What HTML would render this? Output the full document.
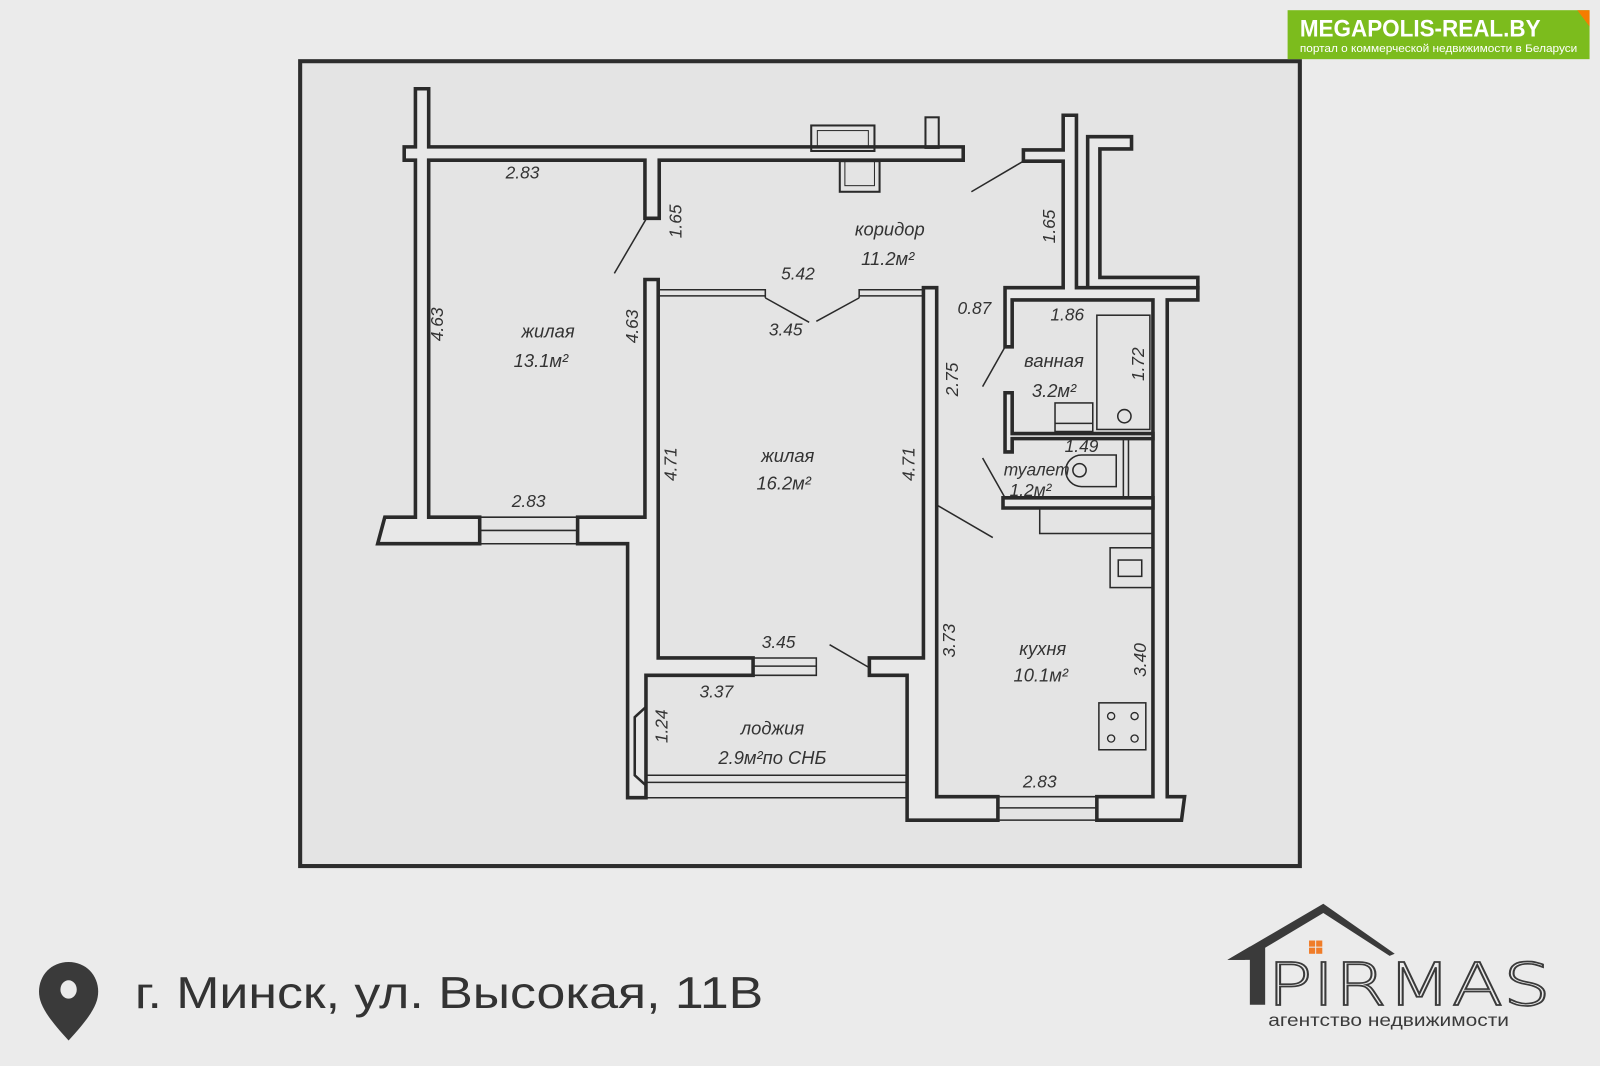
<!DOCTYPE html>
<html><head><meta charset="utf-8"><style>
html,body{margin:0;padding:0;background:#ebebeb;}
svg{display:block}
.t{font-family:"Liberation Sans","DejaVu Sans",sans-serif;font-style:italic;fill:#333;font-size:17px;}
.r{font-family:"Liberation Sans","DejaVu Sans",sans-serif;font-style:italic;fill:#333;font-size:18px;}
</style></head><body>
<svg width="1600" height="1066" viewBox="0 0 1568 1045" xmlns="http://www.w3.org/2000/svg">
<rect x="0" y="0" width="1568" height="1045" fill="#ebebeb"/>
<rect x="294" y="60" width="980" height="789" fill="#e4e4e4" stroke="#2d2d2d" stroke-width="4"/>
<g fill="#e8e8e8" stroke="#2a2a2a" stroke-width="3.5" stroke-linejoin="miter">
<path d="M407,87 L420,87 L420,144 L944,144 L944,157 L646,157 L646,214 L632,214 L632,157 L420,157 L420,507 L470,507 L470,533 L370,533 L377,507 L407,507 L407,157 L396,157 L396,144 L407,144 Z"/>
<path d="M632,274 L645,274 L645,645 L738,645 L738,662 L633,662 L633,782 L615,782 L615,533 L566,533 L566,507 L632,507 Z"/>
<path d="M905,282 L918,282 L918,781 L978,781 L978,804 L889,804 L889,662 L852,662 L852,645 L905,645 Z"/>
<path d="M1042,113 L1055,113 L1055,282 L1174,282 L1174,294 L1144,294 L1144,781 L1161,781 L1158,804 L1075,804 L1075,781 L1130,781 L1130,294 L992,294 L992,340 L985,340 L985,282 L1042,282 L1042,158 L1003,158 L1003,147 L1042,147 Z"/>
<path d="M1066,134 L1109,134 L1109,146 L1078,146 L1078,272 L1174,272 L1174,282 L1066,282 Z"/>
<path d="M985,385 L992,385 L992,425 L1130,425 L1130,430 L992,430 L992,443 L985,443 Z"/>
<path d="M983,488 L1130,488 L1130,498 L983,498 Z"/>
</g>
<g fill="none" stroke="#2a2a2a" stroke-width="2">
<rect x="795" y="123" width="62" height="25"/><rect x="801" y="128" width="50" height="16" stroke-width="1"/>
<rect x="823" y="158" width="39" height="30"/><rect x="828" y="158" width="29" height="24" stroke-width="1"/>
<rect x="907" y="115" width="13" height="30"/>
<path d="M470,507 L566,507 M470,520 L566,520 M470,533 L566,533" stroke-width="1.5"/>
<path d="M738,645 L800,645 L800,662 L738,662 M738,653 L800,653" stroke-width="1.5"/>
<path d="M978,781 L1075,781 M978,792 L1075,792 M978,804 L1075,804" stroke-width="1.5"/>
<path d="M633,760 L889,760 M633,767 L889,767 M633,782 L889,782" stroke-width="1.5"/>
<path d="M645,284 L750,284 L750,292 M645,290 L750,290 M842,292 L842,284 L905,284 M842,290 L905,290" stroke-width="1.5"/>
<path d="M750,292 L793,316 M842,292 L800,315" stroke-width="1.5"/>
<path d="M633,215 L602,268" stroke-width="1.5"/>
<path d="M1003,158 L952,188" stroke-width="1.5"/>
<path d="M985,340 L963,379" stroke-width="1.5"/>
<path d="M963,449 L985,488" stroke-width="1.5"/>
<path d="M918,495 L973,527" stroke-width="1.5"/>
<path d="M813,632 L851,654" stroke-width="1.5"/>
<path d="M633,693 L622,703 L622,760 L633,770" stroke-width="2.5"/>
<rect x="1075" y="309" width="52" height="112" stroke-width="1.5"/>
<circle cx="1102" cy="408" r="6.5" stroke-width="1.5"/>
<rect x="1034" y="395" width="37" height="28" stroke-width="1.5"/>
<path d="M1034,415 L1071,415" stroke-width="1.5"/>
<path d="M1101,430 L1101,488 M1106,430 L1106,488" stroke-width="1.5"/>
<path d="M1060,446 L1094,446 L1094,477 L1060,477 A15.5,15.5 0 0 1 1060,446 Z" stroke-width="1.5"/>
<circle cx="1058" cy="461" r="6.5" stroke-width="1.5"/>
<rect x="1019" y="498" width="111" height="25" stroke-width="1.5"/>
<rect x="1088" y="537" width="42" height="39" stroke-width="1.5"/>
<rect x="1096" y="549" width="23" height="16" stroke-width="1.5"/>
<rect x="1077" y="689" width="46" height="46" stroke-width="1.5"/>
<circle cx="1089" cy="702" r="3.5" stroke-width="1.3"/><circle cx="1112" cy="702" r="3.5" stroke-width="1.3"/>
<circle cx="1089" cy="724" r="3.5" stroke-width="1.3"/><circle cx="1112" cy="724" r="3.5" stroke-width="1.3"/>
</g>
<g text-anchor="middle">
<text class="t" x="512" y="175">2.83</text>
<text class="t" transform="translate(668,217) rotate(-90)">1.65</text>
<text class="r" x="872" y="231">коридор</text>
<text class="r" x="870" y="260">11.2м²</text>
<text class="t" x="782" y="274">5.42</text>
<text class="t" x="770" y="329">3.45</text>
<text class="t" x="955" y="308">0.87</text>
<text class="t" x="1046" y="314">1.86</text>
<text class="t" transform="translate(1034,222) rotate(-90)">1.65</text>
<text class="r" x="1033" y="360">ванная</text>
<text class="r" x="1033" y="389">3.2м²</text>
<text class="t" transform="translate(1121,357) rotate(-90)">1.72</text>
<text class="t" transform="translate(939,372) rotate(-90)">2.75</text>
<text class="t" transform="translate(434,318) rotate(-90)">4.63</text>
<text class="t" transform="translate(625,320) rotate(-90)">4.63</text>
<text class="r" x="537" y="331">жилая</text>
<text class="r" x="530" y="360">13.1м²</text>
<text class="r" x="772" y="453">жилая</text>
<text class="r" x="768" y="480">16.2м²</text>
<text class="t" transform="translate(663,455) rotate(-90)">4.71</text>
<text class="t" transform="translate(896,455) rotate(-90)">4.71</text>
<text class="t" x="1060" y="443" font-size="14">1.49</text>
<text class="t" x="1016" y="466" font-size="14">туалет</text>
<text class="t" x="1010" y="486" font-size="14">1.2м²</text>
<text class="t" x="518" y="497">2.83</text>
<text class="t" x="763" y="635">3.45</text>
<text class="t" x="702" y="684">3.37</text>
<text class="t" transform="translate(654,712) rotate(-90)">1.24</text>
<text class="r" x="757" y="720">лоджия</text>
<text class="r" x="757" y="749">2.9м²по СНБ</text>
<text class="t" transform="translate(936,628) rotate(-90)">3.73</text>
<text class="r" x="1022" y="642">кухня</text>
<text class="r" x="1020" y="668">10.1м²</text>
<text class="t" transform="translate(1123,647) rotate(-90)">3.40</text>
<text class="t" x="1019" y="772">2.83</text>
</g>
<rect x="1262" y="10" width="296" height="48" fill="#7cbc1d"/>
<path d="M1546,10 L1558,10 L1558,26 Z" fill="#f57c00"/>
<text x="1274" y="36" font-family="Liberation Sans,sans-serif" font-weight="bold" font-size="24" fill="#fff" textLength="236" lengthAdjust="spacingAndGlyphs">MEGAPOLIS-REAL.BY</text>
<text x="1274" y="51" font-family="Liberation Sans,sans-serif" font-size="10.5" fill="#fff" textLength="272" lengthAdjust="spacingAndGlyphs">портал о коммерческой недвижимости в Беларуси</text>
<path d="M67,943 C50,943 38,956 38,972 C38,985 46,997 67,1020 C88,997 96,985 96,972 C96,956 84,943 67,943 Z" fill="#3a3a3a"/>
<ellipse cx="67" cy="970" rx="8" ry="9" fill="#ebebeb"/>
<text x="132" y="988" font-family="Liberation Sans,sans-serif" font-size="44" fill="#333" textLength="616" lengthAdjust="spacingAndGlyphs">г. Минск, ул. Высокая, 11В</text>
<path d="M1203,941 L1297,886 L1367,935 L1362,937 L1297,895 L1220,941 Z" fill="#3a3a3a"/>
<path d="M1203,941 L1225,928 L1240,928 L1240,985 L1225,985 L1225,941 Z" fill="#3a3a3a"/>
<rect x="1283" y="922" width="6" height="6" fill="#f07c28"/><rect x="1290" y="922" width="6" height="6" fill="#f07c28"/>
<rect x="1283" y="929" width="6" height="6" fill="#f07c28"/><rect x="1290" y="929" width="6" height="6" fill="#f07c28"/>
<text x="1242" y="985" font-family="DejaVu Sans,Liberation Sans,sans-serif" font-weight="200" font-size="58" fill="none" stroke="#3a3a3a" stroke-width="1.6" textLength="278" lengthAdjust="spacingAndGlyphs">PIRMAS</text>
<text x="1243" y="1006" font-family="Liberation Sans,sans-serif" font-size="17" fill="#3a3a3a" textLength="236" lengthAdjust="spacingAndGlyphs">агентство недвижимости</text>
</svg>
</body></html>
